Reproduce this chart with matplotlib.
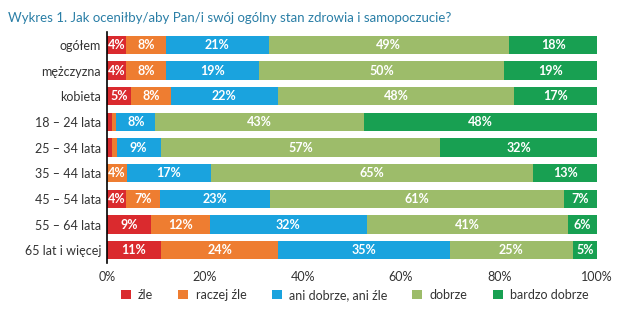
import matplotlib.pyplot as plt
import numpy as np

plt.rcParams['font.family'] = ['Lato', 'DejaVu Sans']

groups = ["ogółem", "mężczyzna", "kobieta", "18 – 24 lata", "25 – 34 lata",
          "35 – 44 lata", "45 – 54 lata", "55 – 64 lata", "65 lat i więcej"]
series = ["źle", "raczej źle", "ani dobrze, ani źle", "dobrze", "bardzo dobrze"]
zle        = np.array([4, 4, 5, 1, 1, 0, 4, 9, 11])
raczej_zle = np.array([8, 8, 8, 1, 1, 4, 7, 12, 24])
ani        = np.array([21, 19, 22, 8, 9, 17, 23, 32, 35])
dobrze     = np.array([49, 50, 48, 43, 57, 65, 61, 41, 25])
b_dobrze   = np.array([18, 19, 17, 48, 32, 13, 7, 6, 5])
colors = ["#da2a2e", "#ee7d31", "#1aa3de", "#9dbc6a", "#18a052"]

data = np.vstack([zle, raczej_zle, ani, dobrze, b_dobrze]).astype(float)
shares = data / data.sum(axis=0) * 100

fig = plt.figure(figsize=(6.17, 3.24), dpi=100)
ax = fig.add_axes([0.173, 0.188, 0.795, 0.713])

y = np.arange(len(groups))
left = np.zeros(len(groups))
for i in range(len(series)):
    ax.barh(y, shares[i], left=left, height=0.72, color=colors[i], label=series[i])
    for j in range(len(groups)):
        if data[i, j] >= 4:
            ax.text(left[j] + shares[i, j] / 2, y[j], f"{int(data[i, j])}%",
                    ha='center', va='center', color='white', fontsize=9,
                    fontweight='bold')
    left = left + shares[i]

ax.set_ylim(len(groups) - 0.5, -0.5)
ax.set_xlim(0, 100)
ax.set_yticks(y)
ax.set_yticklabels(groups, fontsize=9, color='#333333')
ax.set_xticks([0, 20, 40, 60, 80, 100])
ax.set_xticklabels([f"{v}%" for v in [0, 20, 40, 60, 80, 100]], fontsize=9, color='#333333')
ax.tick_params(length=0, pad=4)
ax.tick_params(axis='x', pad=6)
for s in ['top', 'right', 'bottom']:
    ax.spines[s].set_visible(False)
ax.spines['left'].set_color('black')
ax.spines['left'].set_linewidth(1.2)

fig.text(0.013, 0.945, "Wykres 1. Jak oceniłby/aby Pan/i swój ogólny stan zdrowia i samopoczucie?",
         fontsize=9.5, color='#2a7ea6', ha='left', va='center')

fig.legend(loc='center', bbox_to_anchor=(0.575, 0.09), ncol=5, frameon=False,
           fontsize=9, handlelength=0.8, handleheight=0.8, columnspacing=2.0,
           handletextpad=0.6, labelcolor='#333333')

fig.savefig("out.png", dpi=100)
